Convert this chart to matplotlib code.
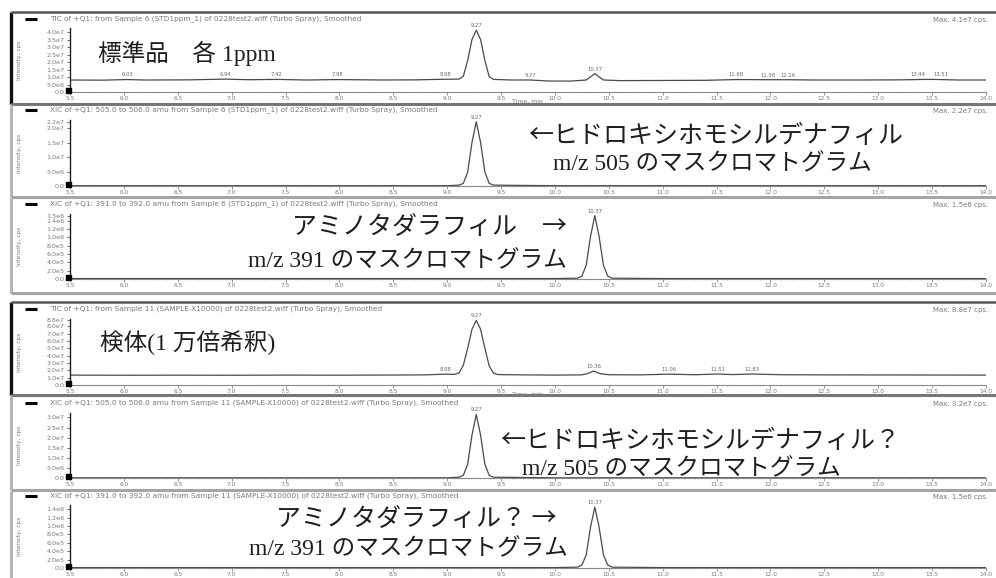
import matplotlib
matplotlib.use('Agg')
import matplotlib.pyplot as plt
from matplotlib.ticker import FixedLocator, MultipleLocator
import numpy as np

W, H = 996, 578

# ---------------- data ----------------
time_ticks = [5.5, 6.0, 6.5, 7.0, 7.5, 8.0, 8.5, 9.0, 9.5, 10.0, 10.5, 11.0, 11.5, 12.0, 12.5, 13.0, 13.5, 14.0]
time_labels = ["5.5", "6.0", "6.5", "7.0", "7.5", "8.0", "8.5", "9.0", "9.5", "10.0", "10.5", "11.0",
               "11.5", "12.0", "12.5", "13.0", "13.5", "14.0"]

# Panel 1: TIC, standard 1 ppm (cps)
tic_std_t = [5.50, 5.80, 6.03, 6.20, 6.60, 6.94, 7.15, 7.42, 7.70, 7.98, 8.40, 8.70, 8.98, 9.11, 9.15,
             9.19, 9.23, 9.27, 9.31, 9.35, 9.39, 9.43, 9.60, 9.77, 9.95, 10.15, 10.29, 10.37, 10.45,
             10.60, 11.00, 11.40, 11.68, 11.98, 12.16, 12.40, 12.80, 13.20, 13.44, 13.51, 13.75, 14.00]
tic_std_i = [0.80e7, 0.79e7, 0.83e7, 0.80e7, 0.81e7, 0.86e7, 0.82e7, 0.84e7, 0.80e7, 0.83e7, 0.80e7,
             0.81e7, 0.85e7, 0.86e7, 1.05e7, 2.10e7, 3.50e7, 4.12e7, 3.50e7, 2.10e7, 1.02e7, 0.84e7,
             0.80e7, 0.80e7, 0.73e7, 0.73e7, 0.80e7, 1.22e7, 0.80e7, 0.76e7, 0.77e7, 0.78e7, 0.83e7,
             0.82e7, 0.82e7, 0.80e7, 0.80e7, 0.81e7, 0.84e7, 0.84e7, 0.80e7, 0.80e7]
tic_std_peaks = [6.03, 6.94, 7.42, 7.98, 8.98, 9.27, 9.77, 10.37, 11.68, 11.98, 12.16, 13.44, 13.51]

# Panel 2: XIC m/z 505, standard
xic505_std_t = [5.50, 9.00, 9.11, 9.15, 9.19, 9.23, 9.27, 9.31, 9.35, 9.39, 9.43, 10.00, 14.00]
xic505_std_i = [0.01e7, 0.01e7, 0.03e7, 0.09e7, 0.48e7, 1.50e7, 2.22e7, 1.50e7, 0.48e7, 0.09e7,
                0.03e7, 0.01e7, 0.01e7]
xic505_std_peaks = [9.27]

# Panel 3: XIC m/z 391, standard
xic391_std_t = [5.50, 10.00, 10.21, 10.25, 10.29, 10.33, 10.37, 10.41, 10.45, 10.49, 10.53, 11.00, 14.00]
xic391_std_i = [0.01e6, 0.01e6, 0.02e6, 0.07e6, 0.33e6, 1.02e6, 1.52e6, 1.02e6, 0.33e6, 0.07e6,
                0.02e6, 0.01e6, 0.01e6]
xic391_std_peaks = [10.37]

# Panel 4: TIC, sample (1/10000 dilution)
tic_smp_t = [5.50, 6.00, 6.50, 7.00, 7.50, 8.00, 8.50, 8.80, 8.98, 9.07, 9.11, 9.15, 9.19, 9.23, 9.27,
             9.31, 9.35, 9.39, 9.43, 9.47, 9.70, 10.00, 10.25, 10.30, 10.36, 10.42, 10.50, 10.80,
             11.06, 11.30, 11.51, 11.65, 11.83, 12.10, 12.50, 13.00, 13.50, 14.00]
tic_smp_i = [1.35e7, 1.33e7, 1.34e7, 1.33e7, 1.35e7, 1.34e7, 1.36e7, 1.38e7, 1.48e7, 1.45e7, 1.65e7,
             2.70e7, 5.00e7, 7.60e7, 8.80e7, 7.60e7, 5.00e7, 2.60e7, 1.62e7, 1.42e7, 1.38e7, 1.35e7,
             1.38e7, 1.55e7, 1.90e7, 1.55e7, 1.40e7, 1.38e7, 1.48e7, 1.40e7, 1.50e7, 1.42e7, 1.50e7,
             1.40e7, 1.38e7, 1.37e7, 1.36e7, 1.35e7]
tic_smp_peaks = [8.98, 9.27, 10.36, 11.06, 11.51, 11.83]

# Panel 5: XIC m/z 505, sample
xic505_smp_t = [5.50, 9.00, 9.11, 9.15, 9.19, 9.23, 9.27, 9.31, 9.35, 9.39, 9.43, 10.00, 14.00]
xic505_smp_i = [0.01e7, 0.01e7, 0.04e7, 0.13e7, 0.68e7, 2.12e7, 3.15e7, 2.12e7, 0.68e7, 0.13e7,
                0.04e7, 0.01e7, 0.01e7]
xic505_smp_peaks = [9.27]

# Panel 6: XIC m/z 391, sample
xic391_smp_t = [5.50, 10.00, 10.21, 10.25, 10.29, 10.33, 10.37, 10.41, 10.45, 10.49, 10.53, 11.00, 14.00]
xic391_smp_i = [0.01e6, 0.01e6, 0.02e6, 0.07e6, 0.31e6, 0.97e6, 1.45e6, 0.97e6, 0.31e6, 0.07e6,
                0.02e6, 0.01e6, 0.01e6]
xic391_smp_peaks = [10.37]

# y-axis ticks / labels per panel
p1_yticks = [0, 0.5e7, 1.0e7, 1.5e7, 2.0e7, 2.5e7, 3.0e7, 3.5e7, 4.0e7]
p1_ylabels = ["0.0", "5.0e6", "1.0e7", "1.5e7", "2.0e7", "2.5e7", "3.0e7", "3.5e7", "4.0e7"]
p2_yticks = [0, 0.5e7, 1.0e7, 1.5e7, 2.0e7, 2.2e7]
p2_ylabels = ["0.0", "5.0e6", "1.0e7", "1.5e7", "2.0e7", "2.2e7"]
p3_yticks = [0, 2e5, 4e5, 6e5, 8e5, 1.0e6, 1.2e6, 1.4e6, 1.5e6]
p3_ylabels = ["0.0", "2.0e5", "4.0e5", "6.0e5", "8.0e5", "1.0e6", "1.2e6", "1.4e6", "1.5e6"]
p4_yticks = [0, 1e7, 2e7, 3e7, 4e7, 5e7, 6e7, 7e7, 8e7, 8.8e7]
p4_ylabels = ["0.0", "1.0e7", "2.0e7", "3.0e7", "4.0e7", "5.0e7", "6.0e7", "7.0e7", "8.0e7", "8.8e7"]
p5_yticks = [0, 0.5e7, 1.0e7, 1.5e7, 2.0e7, 2.5e7, 3.0e7]
p5_ylabels = ["0.0", "5.0e6", "1.0e7", "1.5e7", "2.0e7", "2.5e7", "3.0e7"]
p6_yticks = [0, 2e5, 4e5, 6e5, 8e5, 1.0e6, 1.2e6, 1.4e6]
p6_ylabels = ["0.0", "2.0e5", "4.0e5", "6.0e5", "8.0e5", "1.0e6", "1.2e6", "1.4e6"]

headers = [
    "TIC of +Q1: from Sample 6 (STD1ppm_1) of 0228test2.wiff (Turbo Spray), Smoothed",
    "XIC of +Q1: 505.0 to 506.0 amu from Sample 6 (STD1ppm_1) of 0228test2.wiff (Turbo Spray), Smoothed",
    "XIC of +Q1: 391.0 to 392.0 amu from Sample 6 (STD1ppm_1) of 0228test2.wiff (Turbo Spray), Smoothed",
    "TIC of +Q1: from Sample 11 (SAMPLE-X10000) of 0228test2.wiff (Turbo Spray), Smoothed",
    "XIC of +Q1: 505.0 to 506.0 amu from Sample 11 (SAMPLE-X10000) of 0228test2.wiff (Turbo Spray), Smoothed",
    "XIC of +Q1: 391.0 to 392.0 amu from Sample 11 (SAMPLE-X10000) of 0228test2.wiff (Turbo Spray), Smoothed",
]
max_labels = ["Max. 4.1e7 cps.", "Max. 2.2e7 cps.", "Max. 1.5e6 cps.",
              "Max. 8.8e7 cps.", "Max. 3.2e7 cps.", "Max. 1.5e6 cps."]

# ---------------- layout (pixels) ----------------
panels = [
    dict(t=tic_std_t, i=tic_std_i, pk=tic_std_peaks, yt=p1_yticks, yl=p1_ylabels, ymax=4.27e7,
         top=28, bot=92, head=19, ftop=12, fbot=104, tic=True, timelab=True),
    dict(t=xic505_std_t, i=xic505_std_i, pk=xic505_std_peaks, yt=p2_yticks, yl=p2_ylabels, ymax=2.28e7,
         top=120, bot=186, head=110, ftop=105, fbot=197, tic=False, timelab=False),
    dict(t=xic391_std_t, i=xic391_std_i, pk=xic391_std_peaks, yt=p3_yticks, yl=p3_ylabels, ymax=1.56e6,
         top=214, bot=279, head=204, ftop=198, fbot=293, tic=False, timelab=False),
    dict(t=tic_smp_t, i=tic_smp_i, pk=tic_smp_peaks, yt=p4_yticks, yl=p4_ylabels, ymax=9.0e7,
         top=319, bot=385, head=309, ftop=302, fbot=395, tic=True, timelab=True),
    dict(t=xic505_smp_t, i=xic505_smp_i, pk=xic505_smp_peaks, yt=p5_yticks, yl=p5_ylabels, ymax=3.22e7,
         top=413, bot=478, head=403, ftop=396, fbot=490, tic=False, timelab=False),
    dict(t=xic391_smp_t, i=xic391_smp_i, pk=xic391_smp_peaks, yt=p6_yticks, yl=p6_ylabels, ymax=1.50e6,
         top=505, bot=568, head=496, ftop=491, fbot=580, tic=False, timelab=False),
]

fig = plt.figure(figsize=(W / 100, H / 100), dpi=100)
fig.patch.set_facecolor('white')

AX_L, AX_R = 70, 986
small = dict(family='DejaVu Sans', color='#7a7a7a')

for p in panels:
    ax = fig.add_axes([AX_L / W, 1 - p['bot'] / H, (AX_R - AX_L) / W, (p['bot'] - p['top']) / H])
    ax.patch.set_alpha(0)
    ax.plot(p['t'], p['i'], color='#4a4a4a', lw=0.9)
    ax.set_xlim(5.5, 14.0)
    ax.set_ylim(0, p['ymax'])
    for s in ('top', 'right'):
        ax.spines[s].set_visible(False)
    ax.spines['left'].set_color('#222222')
    ax.spines['left'].set_linewidth(1.0)
    ax.spines['bottom'].set_color('#8a8a8a')
    ax.spines['bottom'].set_linewidth(0.8)
    ax.xaxis.set_major_locator(FixedLocator(time_ticks))
    ax.set_xticklabels(time_labels)
    ax.xaxis.set_minor_locator(MultipleLocator(0.1))
    ax.yaxis.set_major_locator(FixedLocator(p['yt']))
    ax.set_yticklabels(p['yl'])
    ax.tick_params(axis='x', which='major', length=2, width=0.6, color='#888888', pad=1,
                   labelsize=4.2, labelcolor='#7a7a7a')
    ax.tick_params(axis='x', which='minor', length=1, width=0.4, color='#999999')
    ax.tick_params(axis='y', which='major', length=2, width=0.6, color='#555555', pad=2,
                   labelsize=4.6, labelcolor='#7a7a7a')
    pks = p['pk']
    for j, pt in enumerate(pks):
        yv = np.interp(pt, p['t'], p['i'])
        ha = 'center'
        if j + 1 < len(pks) and pks[j + 1] - pt < 0.12:
            ha = 'right'
        elif j > 0 and pt - pks[j - 1] < 0.12:
            ha = 'left'
        ax.annotate(f"{pt:.2f}", (pt, yv), xytext=(0, 1.5), textcoords='offset points',
                    ha=ha, va='bottom', fontsize=3.8, color='#6a6a6a', family='DejaVu Sans',
                    annotation_clip=False)

# overlay in pixel coordinates
ov = fig.add_axes([0, 0, 1, 1])
ov.set_xlim(0, W)
ov.set_ylim(H, 0)
ov.axis('off')
ov.patch.set_alpha(0)

for k, p in enumerate(panels):
    ov.plot([11, 11], [p['ftop'], p['fbot']], color='#111111' if p['tic'] else '#b5b5b5',
            lw=2.4 if p['tic'] else 2.2, solid_capstyle='butt')
    ov.plot([11, W], [p['fbot'], p['fbot']], color='#777777' if p['tic'] else '#a5a5a5',
            lw=2.2, solid_capstyle='butt')
    if p['tic']:
        ov.plot([11, W], [p['ftop'], p['ftop']], color='#555555', lw=1.8, solid_capstyle='butt')
    ov.plot([25, 37], [p['head'], p['head']], color='black', lw=2.2, solid_capstyle='butt')
    ov.text(50, p['head'], headers[k], fontsize=5.3, va='center', ha='left', **small)
    ov.text(988, p['head'] + 1, max_labels[k], fontsize=5.0, va='center', ha='right', **small)
    ov.text(19, (p['top'] + p['bot']) / 2, "Intensity, cps", rotation=90, fontsize=4.2,
            va='center', ha='center', **small)
    ov.add_patch(plt.Rectangle((66, p['bot'] - 4), 5, 5, color='black'))
    if p['timelab']:
        ov.text(527, p['bot'] + 9, "Time, min", fontsize=4.4, va='center', ha='center', **small)

# large annotations (Japanese)
mixed = dict(family=['Liberation Serif', 'Noto Sans CJK JP'], fontsize=17, color='#1e1e1e')
cjk = dict(family=['Noto Sans CJK JP'], fontsize=18, color='#1e1e1e')
ov.text(98, 53, "標準品　各 1ppm", ha='left', va='center', **mixed)
ov.text(528, 136, "←ヒドロキシホモシルデナフィル", ha='left', va='center', **cjk)
ov.text(553, 165, "m/z 505 のマスクロマトグラム", ha='left', va='center', **mixed)
ov.text(567, 227, "アミノタダラフィル　→", ha='right', va='center', **cjk)
ov.text(567, 262, "m/z 391 のマスクロマトグラム", ha='right', va='center', **mixed)
ov.text(100, 343, "検体(1 万倍希釈)", ha='left', va='center', **mixed)
ov.text(500, 441, "←ヒドロキシホモシルデナフィル？", ha='left', va='center', **cjk)
ov.text(522, 470, "m/z 505 のマスクロマトグラム", ha='left', va='center', **mixed)
ov.text(557, 519, "アミノタダラフィル？ →", ha='right', va='center', **cjk)
ov.text(568, 550, "m/z 391 のマスクロマトグラム", ha='right', va='center', **mixed)

fig.savefig('out.png', dpi=100, facecolor='white')
